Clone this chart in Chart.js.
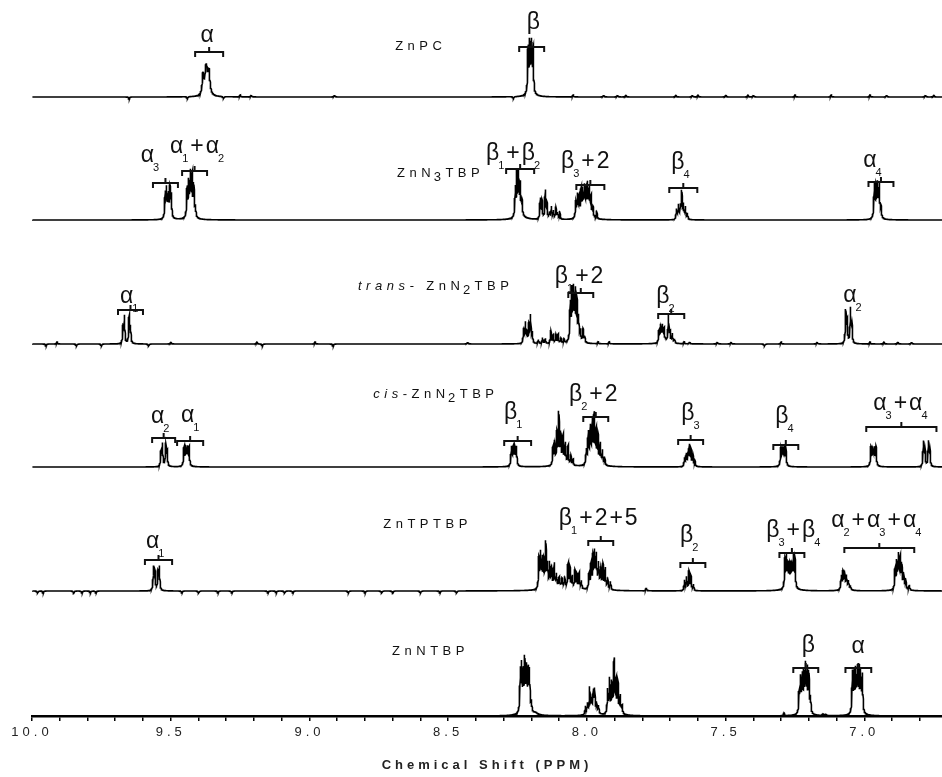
<!DOCTYPE html>
<html><head><meta charset="utf-8">
<style>html,body{margin:0;padding:0;background:#fff;}canvas{display:block;}</style>
<script src="https://cdn.jsdelivr.net/npm/chart.js@4"></script>
</head><body>
<canvas id="c" width="942" height="777"></canvas>
<script>
// ---------- DATA ----------
const spectrumNames = ['ZnPC', 'ZnN_3TBP', '*trans-* ZnN_2TBP', '*cis*-ZnN_2TBP', 'ZnTPTBP', 'ZnNTBP'];
const tickValues = [6.8,6.9,7.0,7.1,7.2,7.3,7.4,7.5,7.6,7.7,7.8,7.9,8.0,8.1,8.2,8.3,8.4,8.5,8.6,8.7,8.8,8.9,9.0,9.1,9.2,9.3,9.4,9.5,9.6,9.7,9.8,9.9,10.0];
const majorTicks = [10.0, 9.5, 9.0, 8.5, 8.0, 7.5, 7.0];
const tickLabels = ['10.0', '9.5', '9.0', '8.5', '8.0', '7.5', '7.0'];
const axisTitle = 'Chemical Shift (PPM)';

// narrow lines: [shift ppm, intensity]
const znpcLines = [
  [8.212,44],[8.206,47],[8.200,47],[8.194,43],
  [9.65,-2],[9.44,-2],[9.31,-2],[9.25,2],[9.21,2],[8.91,2],[8.265,-2],[8.05,2],[7.94,2],[7.89,2],[7.86,2],
  [7.68,2],[7.62,2],[7.60,2],[7.50,2],[7.42,2],[7.40,2],[7.25,2],[7.12,2],[6.98,2],[6.92,2],[6.78,2],[6.75,2]
];
const znpcBroad = [[9.384,18,0.003],[9.372,30,0.006],[9.362,20,0.004],[8.203,4,0.015]];

const zn3Lines = [
  [9.520,24],[9.515,27],[9.509,20],[9.503,28],[9.498,22],
  [9.441,28],[9.435,32],[9.429,40],[9.423,38],[9.417,30],[9.411,10],
  [8.258,28],[8.252,42],[8.246,40],[8.240,30],[8.234,14],
  [8.168,20],[8.162,18],[8.150,28],[8.144,15],[8.135,6],[8.128,12],[8.121,8],[8.112,12],[8.106,6],[8.098,8],
  [8.040,16],[8.034,22],[8.028,20],[8.021,26],[8.015,24],[8.009,27],[8.003,24],[7.997,30],[7.991,26],[7.985,20],[7.978,10],[7.965,8],
  [7.677,10],[7.670,14],[7.663,12],[7.658,27],[7.652,14],[7.645,12],[7.638,6],
  [6.964,33],[6.958,28],[6.952,30],[6.946,32],[6.940,10]
];
const zn3Broad = [[9.509,3,0.01],[9.428,4,0.015],[8.24,4,0.02],[8.005,4,0.02],[6.953,4,0.01]];

const transLines = [
  [9.672,16],[9.667,27],[9.650,27],[9.645,16],
  [8.228,14],[8.222,20],[8.216,10],[8.209,18],[8.203,27],[8.197,10],
  [8.175,4],[8.160,6],[8.150,5],[8.130,13],[8.122,8],[8.112,9],[8.104,9],[8.094,5],[8.083,4],
  [8.060,36],[8.054,47],[8.048,46],[8.042,44],[8.036,36],[8.030,22],[8.024,10],[8.014,13],[8.008,6],
  [7.740,12],[7.734,16],[7.728,15],[7.722,12],[7.706,27],[7.700,10],[7.692,9],[7.684,4],
  [7.067,32],[7.062,22],[7.050,34],[7.045,20],
  [9.95,-2],[9.91,2],[9.84,-2],[9.75,-2],[9.58,-2],[9.50,2],[9.19,2],[9.17,-2],[8.98,2],[8.915,-2],
  [8.43,2],[7.96,2],[7.92,2],[7.65,2],[7.63,2],[7.53,2],[7.48,2],[7.36,-2],[7.30,2],[7.17,2],[6.98,2],[6.93,2],[6.88,2],[6.83,2]
];
const transBroad = [[8.045,5,0.015],[7.72,3,0.015]];

const cisLines = [
  [9.535,15],[9.530,22],[9.518,22],[9.513,15],
  [9.452,18],[9.446,16],[9.440,16],[9.434,18],
  [8.272,18],[8.266,16],[8.260,16],[8.254,18],
  [8.122,18],[8.116,22],[8.108,30],[8.101,49],[8.094,28],[8.086,27],[8.078,20],[8.068,19],[8.058,10],[8.050,6],
  [8.002,14],[7.995,30],[7.988,34],[7.981,38],[7.974,45],[7.967,30],[7.960,27],[7.952,20],[7.944,14],[7.936,8],
  [7.648,8],[7.642,12],[7.636,10],[7.631,20],[7.625,16],[7.618,12],[7.611,6],
  [7.301,17],[7.295,15],[7.289,15],[7.283,17],
  [6.976,18],[6.970,15],[6.964,15],[6.958,18],
  [6.787,24],[6.782,18],[6.769,24],[6.764,18]
];
const cisBroad = [[9.443,3,0.008],[8.263,3,0.008],[8.09,3,0.02],[7.975,5,0.02],[7.292,3,0.008],[6.967,3,0.008]];

const tpLines = [
  [9.562,23],[9.557,18],[9.546,18],[9.541,23],
  [8.173,30],[8.167,34],[8.161,28],[8.155,26],[8.148,44],[8.142,22],[8.134,24],[8.127,20],[8.118,23],[8.110,12],
  [8.100,9],[8.090,8],[8.080,10],[8.068,24],[8.061,20],[8.053,12],[8.043,18],[8.036,14],[8.028,16],[8.020,8],
  [7.992,15],[7.985,24],[7.978,30],[7.972,33],[7.966,30],[7.958,22],[7.950,18],[7.942,23],[7.934,20],[7.925,11],[7.915,8],
  [7.786,3],
  [7.648,10],[7.641,13],[7.632,19],[7.625,14],[7.616,6],
  [7.286,28],[7.280,31],[7.274,21],[7.268,20],[7.262,21],[7.256,31],[7.250,28],
  [7.083,13],[7.077,16],[7.071,15],[7.064,12],[7.057,8],[7.050,4],
  [6.889,20],[6.883,25],[6.877,31],[6.871,28],[6.865,22],[6.858,14],[6.851,10],[6.838,5],
  [9.98,-2],[9.96,-2],[9.85,-2],[9.82,-2],[9.79,-2],[9.77,-2],[9.46,-2],[9.40,-2],[9.33,-2],[9.28,-2],
  [9.15,-2],[9.12,-2],[9.09,-2],[9.06,-2],[8.86,-2],[8.80,-2],[8.74,-2],[8.70,-2],[8.60,-2],[8.53,-2],[8.47,-2]
];
const tpBroad = [[8.10,4,0.04],[7.96,4,0.02],[7.268,4,0.02],[7.07,3,0.012],[6.87,3,0.015]];

const nLines = [
  [8.240,38],[8.236,42],[8.230,36],[8.224,48],[8.218,40],[8.212,38],[8.207,39],[8.200,10],
  [8.005,8],[7.998,10],[7.990,25],[7.984,12],[7.977,20],[7.972,22],[7.965,10],[7.958,8],
  [7.925,23],[7.918,33],[7.910,28],[7.902,50],[7.895,30],[7.888,28],[7.880,17],[7.873,8],
  [7.235,20],[7.230,33],[7.224,34],[7.218,36],[7.212,43],[7.206,40],[7.200,38],[7.194,15],
  [7.043,40],[7.037,37],[7.031,38],[7.025,39],[7.019,40],[7.013,38],[7.007,37],
  [7.29,3],[7.15,2],[7.14,2]
];
const nBroad = [[8.222,4,0.02],[8.185,2,0.01],[7.98,3,0.015],[7.90,4,0.02],[7.215,4,0.015],[7.025,4,0.015]];

// ---------- LAYOUT / STYLE ----------
const X_MIN = 6.72, X_MAX = 10.0, Y_MAX = 716;
const specOffsets = [619, 496, 372, 249, 125, 0];
const lineHWHM = 0.0018, gridStep = 0.0005;

// peak labels: [spectrum, text, ppm centre, height above baseline]
const peakLabels = [
  [0,'α',9.369,55],[0,'β',8.193,68],
  [1,'α_3',9.575,58],[1,'α_1+α_2',9.405,67],[1,'β_1+β_2',8.266,60],[1,'β_3+2',8.006,52],[1,'β_4',7.663,51],[1,'α_4',6.971,53],
  [2,'α_1',9.650,41],[2,'β_1+2',8.028,61],[2,'β_2',7.717,41],[2,'α_2',7.043,42],
  [3,'α_2',9.538,44],[3,'α_1',9.430,45],[3,'β_1',8.266,48],[3,'β_2+2',7.977,66],[3,'β_3',7.627,47],[3,'β_4',7.288,44],[3,'α_3+α_4',6.870,57],
  [4,'α_1',9.556,43],[4,'β_1+2+5',7.959,66],[4,'β_2',7.631,49],[4,'β_3+β_4',7.256,54],[4,'α_2+α_3+α_4',6.957,64],
  [5,'β',7.202,64],[5,'α',7.022,63]
];
// brackets: [spectrum, ppm from, ppm to, height above baseline]
const brackets = [
  [0,9.412,9.311,45],[0,8.244,8.154,50],
  [1,9.564,9.474,37],[1,9.459,9.369,49],[1,8.291,8.190,51],[1,8.038,7.937,35],[1,7.703,7.602,32],[1,6.985,6.895,38],
  [2,9.690,9.600,34],[2,8.067,7.977,51],[2,7.743,7.649,30],
  [3,9.567,9.484,29],[3,9.477,9.383,26],[3,8.298,8.201,26],[3,8.013,7.923,50],[3,7.671,7.581,27],[3,7.328,7.238,22],[3,6.993,6.740,40],
  [4,9.593,9.495,31],[4,7.995,7.905,50],[4,7.663,7.573,28],[4,7.306,7.216,38],[4,7.072,6.820,43],
  [5,7.256,7.166,48],[5,7.068,6.975,48]
];
// species names: [spectrum, left ppm, height above baseline]
const namePos = [[0,8.691,47],[1,8.684,43],[2,8.825,54],[3,8.770,69],[4,8.734,63],[5,8.702,61]];

const specLines = [znpcLines, zn3Lines, transLines, cisLines, tpLines, nLines];
const specBroad = [znpcBroad, zn3Broad, transBroad, cisBroad, tpBroad, nBroad];

function buildSpectrum(lines, broad, offset) {
  const pts = [];
  const n = Math.round((X_MAX - X_MIN) / gridStep);
  for (let i = 0; i <= n; i++) {
    const x = X_MIN + i * gridStep;
    let y = 0;
    for (const [p, h] of lines) { const d = (x - p) / lineHWHM; y += h / (1 + d * d); }
    for (const [p, h, w] of broad) { const d = (x - p) / w; y += h / (1 + d * d); }
    pts.push({x, y: y + offset});
  }
  return pts;
}

const datasets = specLines.map((l, i) => ({
  data: buildSpectrum(l, specBroad[i], specOffsets[i]),
  borderColor: '#000', borderWidth: 1.6, pointRadius: 0, fill: false, tension: 0
}));

function drawRich(ctx, str, x, y, o) {
  const toks = []; let italic = false;
  for (let i = 0; i < str.length; i++) {
    const c = str[i];
    if (c === '*') { italic = !italic; continue; }
    if (c === '_') { toks.push({c: str[++i], sub: true, italic}); continue; }
    toks.push({c, sub: false, italic});
  }
  const fontOf = t => `${t.italic ? 'italic ' : ''}${o.weight || 'normal'} ${t.sub ? o.sub : o.size}px ${o.family}`;
  let w = 0;
  toks.forEach((t, i) => {
    ctx.font = fontOf(t); t.w = ctx.measureText(t.c).width;
    t.gap = (i < toks.length - 1) ? (toks[i + 1].sub ? o.subGap : o.spacing) : 0;
    w += t.w + t.gap;
  });
  let cx = o.align === 'center' ? x - w / 2 : x;
  toks.forEach(t => {
    ctx.font = fontOf(t);
    ctx.fillText(t.c, cx, y + (t.sub ? o.subDy : 0));
    cx += t.w + t.gap;
  });
}

const annotPlugin = {
  id: 'annot',
  beforeDraw(chart) { chart.ctx.letterSpacing = '4px'; },
  afterDatasetsDraw(chart) {
    const {ctx, scales: {x, y}} = chart;
    ctx.save();
    ctx.letterSpacing = '0px';
    ctx.fillStyle = '#111';
    ctx.strokeStyle = '#111';
    ctx.textAlign = 'left';
    ctx.textBaseline = 'alphabetic';
    ctx.lineWidth = 2;
    for (const [s, a, b, dy] of brackets) {
      const x1 = x.getPixelForValue(a), x2 = x.getPixelForValue(b);
      const yy = Math.round(y.getPixelForValue(specOffsets[s] + dy));
      const xm = (x1 + x2) / 2;
      ctx.beginPath();
      ctx.moveTo(x1, yy + 5); ctx.lineTo(x1, yy); ctx.lineTo(x2, yy); ctx.lineTo(x2, yy + 5);
      ctx.moveTo(xm, yy); ctx.lineTo(xm, yy - 5);
      ctx.stroke();
    }
    for (const [s, txt, p, dy] of peakLabels) {
      drawRich(ctx, txt, x.getPixelForValue(p), y.getPixelForValue(specOffsets[s] + dy),
        {size: 23, sub: 11, subDy: 9, spacing: 2, subGap: -1, align: 'center', family: '"Liberation Sans", Arial, sans-serif'});
    }
    for (const [s, p, dy] of namePos) {
      drawRich(ctx, spectrumNames[s], x.getPixelForValue(p), y.getPixelForValue(specOffsets[s] + dy),
        {size: 13, sub: 13, subDy: 4, spacing: 4.5, subGap: 3, align: 'left', family: '"Liberation Sans", Arial, sans-serif'});
    }
    ctx.restore();
  },
  afterDraw(chart) { chart.ctx.letterSpacing = '0px'; }
};

new Chart(document.getElementById('c'), {
  type: 'line',
  data: { datasets },
  plugins: [annotPlugin],
  options: {
    responsive: false, animation: false, parsing: false, normalized: true,
    events: [],
    layout: { padding: { left: 32, right: 0, top: 0, bottom: 0 } },
    plugins: { legend: { display: false }, tooltip: { enabled: false } },
    scales: {
      x: {
        type: 'linear', reverse: true, min: X_MIN, max: X_MAX,
        afterBuildTicks: s => { s.ticks = tickValues.slice().reverse().map(v => ({value: v})); },
        afterFit: s => { s.height = 61; },
        ticks: {
          autoSkip: false, maxRotation: 0, minRotation: 0, padding: 4, color: '#222',
          font: { family: '"Liberation Sans", Arial, sans-serif', size: 13 },
          callback: v => { const i = majorTicks.findIndex(m => Math.abs(m - v) < 1e-6); return i >= 0 ? tickLabels[i] : ''; }
        },
        grid: { drawOnChartArea: false, drawTicks: true, tickLength: 5, color: '#000', lineWidth: 1.5 },
        border: { display: true, color: '#000', width: 2.5 },
        title: { display: true, text: axisTitle, color: '#222', padding: { top: 0, bottom: 4 },
          font: { family: '"Liberation Sans", Arial, sans-serif', size: 13, weight: 'bold' } }
      },
      y: { display: false, min: 0, max: Y_MAX }
    }
  }
});
</script>
</body></html>
